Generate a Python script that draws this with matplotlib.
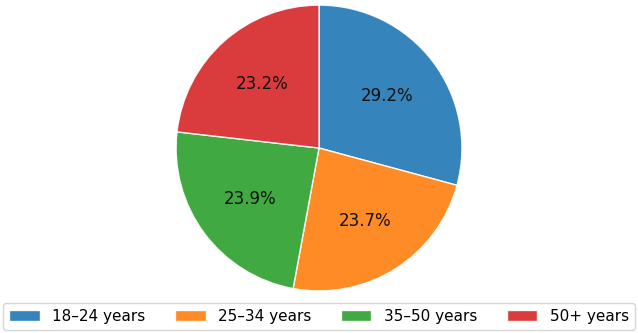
import matplotlib
matplotlib.use("Agg")
import matplotlib.pyplot as plt

labels = ["18–24 years", "25–34 years", "35–50 years", "50+ years"]
shares = [29.2, 23.7, 23.9, 23.2]
colors = ["#1f77b4", "#ff7f0e", "#2ca02c", "#d62728"]

fig = plt.figure(figsize=(6.38, 3.33), dpi=100)
ax = fig.add_axes([0.276, 0.126, 0.448, 0.859])

wedges, texts, autotexts = ax.pie(
    shares, colors=colors, autopct="%1.1f%%", startangle=90,
    counterclock=False, pctdistance=0.6,
    wedgeprops=dict(edgecolor="white", linewidth=1, alpha=0.9),
    textprops=dict(fontsize=12, color="#111111"))
ax.set_aspect("equal")
ax.set_xlim(-1.0, 1.0)
ax.set_ylim(-1.0, 1.0)

fig.legend(wedges, labels, loc="lower left", ncol=4, mode="expand",
           bbox_to_anchor=(0.005, 0.009, 0.99, 0.08), fontsize=11,
           frameon=True, borderaxespad=0)

fig.savefig("out.png", dpi=100)
